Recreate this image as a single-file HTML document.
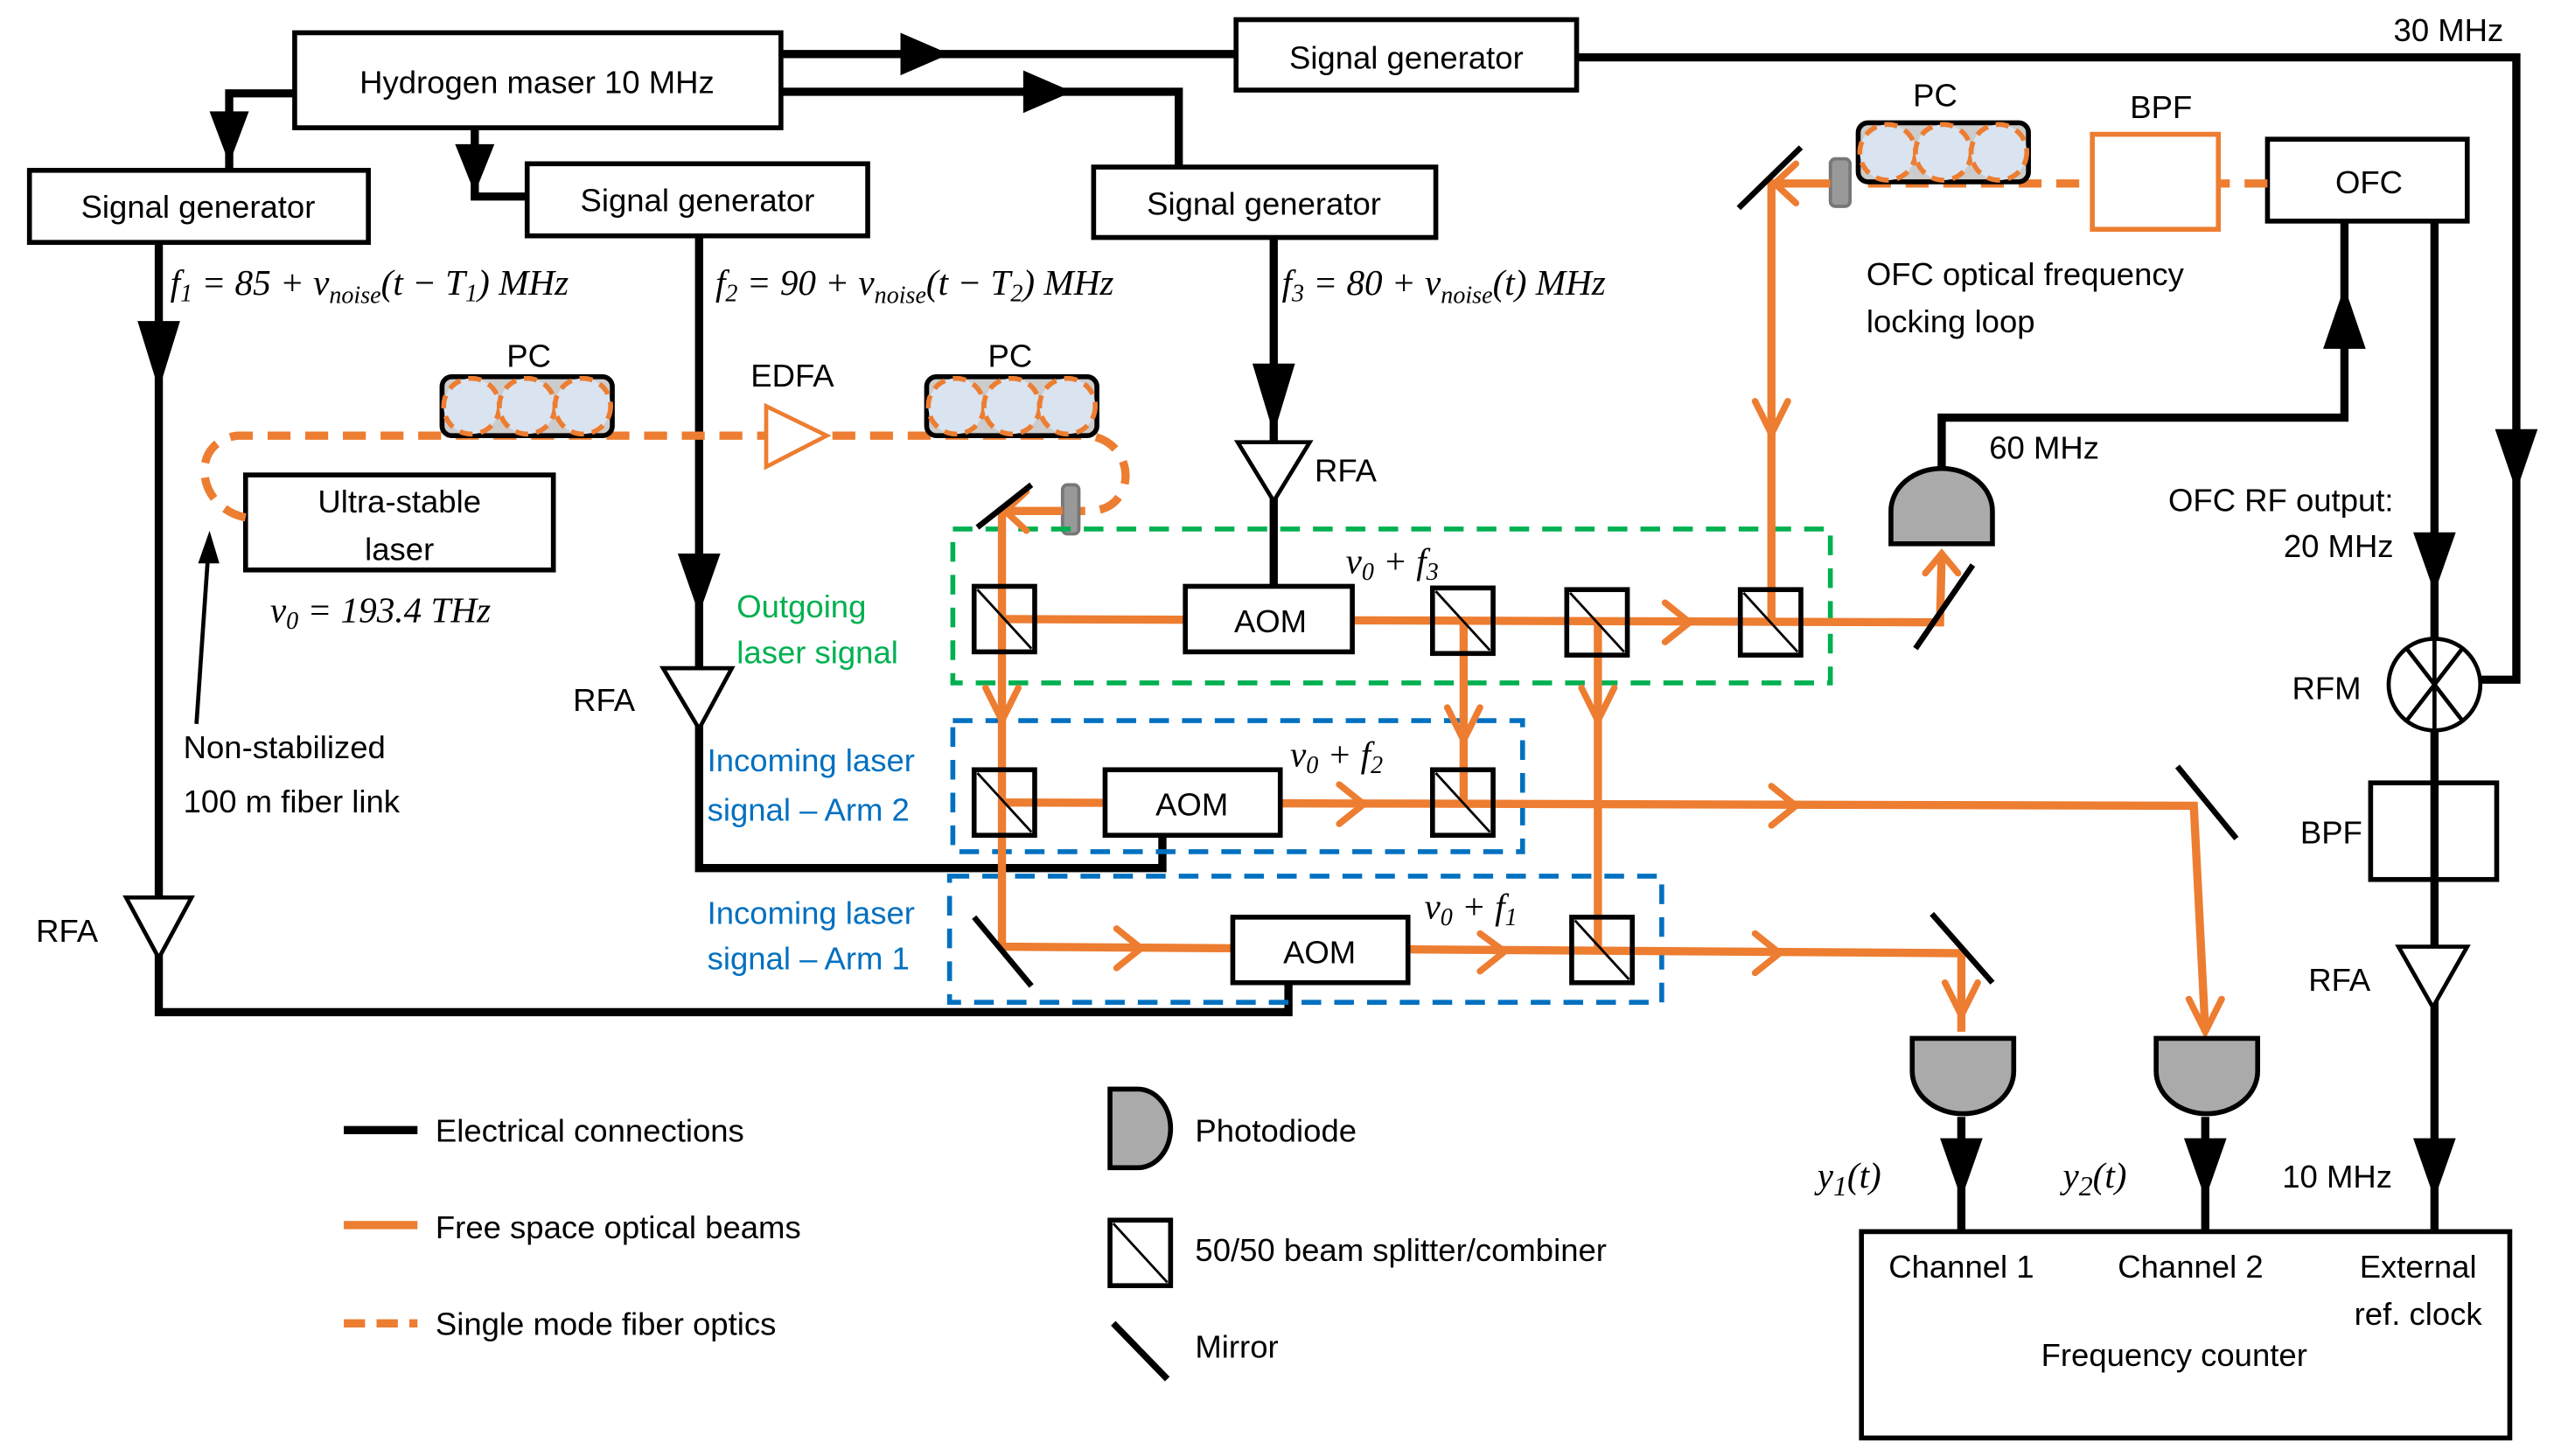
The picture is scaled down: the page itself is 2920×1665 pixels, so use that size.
<!DOCTYPE html>
<html><head><meta charset="utf-8"><style>
html,body{margin:0;padding:0;background:#fff}
svg{display:block}
text{font-family:"Liberation Sans",sans-serif;font-size:19.5px;fill:#000}
.m{font-family:"Liberation Serif",serif;font-style:italic;font-size:22px}
.g{fill:#00b050}.b{fill:#0070c0}
</style></head><body>
<svg width="2920" height="1665" viewBox="0 0 1560 889" preserveAspectRatio="none" xmlns="http://www.w3.org/2000/svg">
<defs>
<g id="pc"><rect x="0" y="0" width="104" height="36" rx="6" fill="#ccc" stroke="#000" stroke-width="3"/>
<ellipse cx="18" cy="18" rx="17" ry="17" fill="#dae3f0" stroke="#ed7d31" stroke-width="3" stroke-dasharray="8,5"/>
<ellipse cx="52" cy="18" rx="17" ry="17" fill="#dae3f0" stroke="#ed7d31" stroke-width="3" stroke-dasharray="8,5"/>
<ellipse cx="86" cy="18" rx="17" ry="17" fill="#dae3f0" stroke="#ed7d31" stroke-width="3" stroke-dasharray="8,5"/></g>
<g id="bs"><rect x="0" y="0" width="37" height="40" fill="none" stroke="#000" stroke-width="3"/><line x1="2" y1="2" x2="35" y2="38" stroke="#000" stroke-width="1.5"/></g>
<g id="pdd"><path d="M0,0 H62 V20 A31,26 0 0 1 0,20 Z" fill="#aaa" stroke="#000" stroke-width="3"/></g>
</defs>
<g fill="none" stroke="#000" stroke-width="5">
<rect x="180" y="20" width="297" height="58" stroke-width="3"/>
<rect x="755" y="12" width="208" height="43" stroke-width="3"/>
<rect x="18" y="104" width="207" height="44" stroke-width="3"/>
<rect x="322" y="100" width="208" height="44" stroke-width="3"/>
<rect x="668" y="102" width="209" height="43" stroke-width="3"/>
<rect x="150" y="290" width="188" height="58" stroke-width="3"/>
<rect x="1385" y="85" width="122" height="50" stroke-width="3"/>
<rect x="1448" y="478" width="77" height="59" stroke-width="3"/>
<rect x="1137" y="752" width="396" height="126" stroke-width="3"/>
<polyline points="477,33 755,33"/>
<polyline points="477,56 720,56 720,102"/>
<polyline points="180,57 140,57 140,104"/>
<polyline points="290,78 290,120 322,120"/>
<polyline points="963,35 1537,35 1537,415 1515,415"/>
<polyline points="97,148 97,618 787,618 787,600"/>
<polyline points="427,144 427,530 710,530 710,510"/>
<polyline points="778,145 778,358"/>
<polyline points="1186,290 1186,255 1432,255 1432,135"/>
<polyline points="1487,135 1487,752"/>
<polyline points="1198,682 1198,752"/>
<polyline points="1347,682 1347,752"/>
<line x1="120" y1="442" x2="127" y2="340" stroke-width="2.5"/>
<line x1="210" y1="690" x2="255" y2="690"/>
</g>
<g fill="#000">
<polygon points="550,20 580,33 550,46"/>
<polygon points="625,43 655,56 625,69"/>
<polygon points="128,68 152,68 140,100"/>
<polygon points="278,88 302,88 290,118"/>
<polygon points="1524,262 1550,262 1537,300"/>
<polygon points="84,196 110,196 97,238"/>
<polygon points="414,338 440,338 427,375"/>
<polygon points="765,222 791,222 778,265"/>
<polygon points="1419,213 1445,213 1432,175"/>
<polygon points="1474,325 1500,325 1487,362"/>
<polygon points="1185,695 1211,695 1198,732"/>
<polygon points="1334,695 1360,695 1347,732"/>
<polygon points="1474,695 1500,695 1487,732"/>
<polygon points="121,344 134,344 128,324"/>
</g>
<g fill="#fff" stroke="#000" stroke-width="2.5">
<polygon points="77,548 117,548 97,585"/>
<polygon points="405,408 447,408 427,445"/>
<polygon points="756,270 800,270 778,306"/>
<polygon points="1465,578 1507,578 1486,615"/>
<circle cx="1487" cy="418" r="28"/>
<line x1="1470" y1="396" x2="1504" y2="440"/><line x1="1504" y1="396" x2="1470" y2="440"/>
<line x1="1487" y1="390" x2="1487" y2="446"/>
</g>
<g fill="none" stroke="#ed7d31" stroke-width="5" stroke-dasharray="14,9">
<path d="M150,316 C120,310 115,270 145,266 L665,266 C695,270 695,312 665,312 L655,312"/>
<path d="M1385,112 L1132,112"/>
</g>
<use href="#pc" x="270" y="230"/>
<use href="#pc" x="566" y="230"/>
<use href="#pc" x="1135" y="75"/>
<polygon points="468,248 505,266 468,285" fill="#fff" stroke="#ed7d31" stroke-width="2.5"/>
<rect x="1278" y="82" width="77" height="58" fill="#fff" stroke="#ed7d31" stroke-width="3"/>
<rect x="649" y="296" width="10" height="30" rx="3" fill="#999" stroke="#777" stroke-width="2"/>
<rect x="1118" y="97" width="12" height="29" rx="3" fill="#999" stroke="#777" stroke-width="2"/>
<g fill="none" stroke-width="3" stroke-dasharray="12,8">
<rect x="582" y="323" width="536" height="94" stroke="#00b050"/>
<rect x="582" y="440" width="348" height="80" stroke="#0070c0"/>
<rect x="580" y="535" width="435" height="77" stroke="#0070c0"/>
</g>
<g fill="none" stroke="#ed7d31" stroke-width="5">
<polyline points="649,312 612,312 612,578 1198,582 1198,630"/>
<polyline points="612,378 1185,380 1186,338"/>
<polyline points="894,380 894,490"/>
<polyline points="976,380 976,580"/>
<polyline points="612,490 1340,492 1347,630"/>
<polyline points="1118,112 1082,112 1082,380"/>
<line x1="210" y1="748" x2="255" y2="748"/>
<line x1="210" y1="808" x2="255" y2="808" stroke-dasharray="13,7"/>
</g>
<g fill="#fff" stroke="#000" stroke-width="3">
<rect x="724" y="358" width="102" height="40"/>
<rect x="675" y="470" width="107" height="40"/>
<rect x="753" y="560" width="107" height="40"/>
</g>
<g fill="none" stroke="#ed7d31" stroke-width="4" stroke-linecap="round">
<polyline points="627,300 614,312 627,324"/>
<polyline points="1097,100 1084,112 1097,124"/>
<polyline points="602,420 612,440 622,420"/>
<polyline points="1072,245 1082,265 1092,245"/>
<polyline points="884,432 894,452 904,432"/>
<polyline points="966,420 976,440 986,420"/>
<polyline points="1017,368 1032,380 1017,392"/>
<polyline points="1176,350 1186,338 1196,350"/>
<polyline points="818,479 833,491 818,503"/>
<polyline points="1082,480 1097,492 1082,504"/>
<polyline points="682,567 697,579 682,591"/>
<polyline points="904,570 919,581 904,593"/>
<polyline points="1072,570 1087,582 1072,594"/>
<polyline points="1188,600 1198,620 1208,600"/>
<polyline points="1337,610 1347,630 1357,610"/>
</g>
<g fill="none">
<use href="#bs" x="595" y="358"/><use href="#bs" x="875" y="359"/><use href="#bs" x="957" y="360"/><use href="#bs" x="1063" y="360"/>
<use href="#bs" x="595" y="470"/><use href="#bs" x="875" y="470"/><use href="#bs" x="960" y="560"/>
<use href="#bs" x="678" y="745"/>
</g>
<g stroke="#000" stroke-width="3.5">
<line x1="597" y1="322" x2="630" y2="296"/>
<line x1="1062" y1="127" x2="1100" y2="90"/>
<line x1="1170" y1="396" x2="1205" y2="345"/>
<line x1="1330" y1="468" x2="1366" y2="512"/>
<line x1="1180" y1="558" x2="1217" y2="600"/>
<line x1="595" y1="560" x2="630" y2="602"/>
<line x1="680" y1="808" x2="713" y2="842" stroke-width="4"/>
</g>
<path d="M1155,332 V312 A31,26 0 0 1 1217,312 V332 Z" fill="#aaa" stroke="#000" stroke-width="3"/>
<use href="#pdd" x="1168" y="634"/>
<use href="#pdd" x="1317" y="634"/>
<path d="M678,665 V713 H695 A20,24 0 0 0 695,665 Z" fill="#aaa" stroke="#000" stroke-width="3"/>
<text x="328" y="57" text-anchor="middle">Hydrogen maser 10 MHz</text>
<text x="859" y="42" text-anchor="middle">Signal generator</text>
<text x="121" y="133" text-anchor="middle">Signal generator</text>
<text x="426" y="129" text-anchor="middle">Signal generator</text>
<text x="772" y="131" text-anchor="middle">Signal generator</text>
<text x="1462" y="25">30 MHz</text>
<text class="m" x="104" y="180">f<tspan font-size="15" dy="4">1</tspan><tspan dy="-4"> = 85 + ν</tspan><tspan font-size="15" dy="5">noise</tspan><tspan dy="-5">(t − T</tspan><tspan font-size="15" dy="4">1</tspan><tspan dy="-4">) MHz</tspan></text>
<text class="m" x="437" y="180">f<tspan font-size="15" dy="4">2</tspan><tspan dy="-4"> = 90 + ν</tspan><tspan font-size="15" dy="5">noise</tspan><tspan dy="-5">(t − T</tspan><tspan font-size="15" dy="4">2</tspan><tspan dy="-4">) MHz</tspan></text>
<text class="m" x="783" y="180">f<tspan font-size="15" dy="4">3</tspan><tspan dy="-4"> = 80 + ν</tspan><tspan font-size="15" dy="5">noise</tspan><tspan dy="-5">(t) MHz</tspan></text>
<text x="323" y="224" text-anchor="middle">PC</text>
<text x="617" y="224" text-anchor="middle">PC</text>
<text x="1182" y="65" text-anchor="middle">PC</text>
<text x="484" y="236" text-anchor="middle">EDFA</text>
<text x="1320" y="72" text-anchor="middle">BPF</text>
<text x="1447" y="118" text-anchor="middle">OFC</text>
<text x="244" y="313" text-anchor="middle">Ultra-stable</text>
<text x="244" y="342" text-anchor="middle">laser</text>
<text class="m" x="165" y="380">ν<tspan font-size="15" dy="4">0</tspan><tspan dy="-4"> = 193.4 THz</tspan></text>
<text x="112" y="463">Non-stabilized</text>
<text x="112" y="496">100 m fiber link</text>
<text x="22" y="575">RFA</text>
<text x="350" y="434">RFA</text>
<text x="803" y="294">RFA</text>
<text class="g" x="450" y="377">Outgoing</text>
<text class="g" x="450" y="405">laser signal</text>
<text class="b" x="432" y="471">Incoming laser</text>
<text class="b" x="432" y="501">signal – Arm 2</text>
<text class="b" x="432" y="564">Incoming laser</text>
<text class="b" x="432" y="592">signal – Arm 1</text>
<text x="776" y="386" text-anchor="middle">AOM</text>
<text x="728" y="498" text-anchor="middle">AOM</text>
<text x="806" y="588" text-anchor="middle">AOM</text>
<text class="m" x="822" y="350">ν<tspan font-size="15" dy="4">0</tspan><tspan dy="-4"> + f</tspan><tspan font-size="15" dy="4">3</tspan></text>
<text class="m" x="788" y="468">ν<tspan font-size="15" dy="4">0</tspan><tspan dy="-4"> + f</tspan><tspan font-size="15" dy="4">2</tspan></text>
<text class="m" x="870" y="561">ν<tspan font-size="15" dy="4">0</tspan><tspan dy="-4"> + f</tspan><tspan font-size="15" dy="4">1</tspan></text>
<text x="1140" y="174">OFC optical frequency</text>
<text x="1140" y="203">locking loop</text>
<text x="1215" y="280">60 MHz</text>
<text x="1462" y="312" text-anchor="end">OFC RF output:</text>
<text x="1462" y="340" text-anchor="end">20 MHz</text>
<text x="1400" y="427">RFM</text>
<text x="1405" y="515">BPF</text>
<text x="1410" y="605">RFA</text>
<text x="1394" y="725">10 MHz</text>
<text class="m" x="1110" y="725" font-size="26">y<tspan font-size="17" dy="5">1</tspan><tspan dy="-5">(t)</tspan></text>
<text class="m" x="1260" y="725" font-size="26">y<tspan font-size="17" dy="5">2</tspan><tspan dy="-5">(t)</tspan></text>
<text x="1198" y="780" text-anchor="middle">Channel 1</text>
<text x="1338" y="780" text-anchor="middle">Channel 2</text>
<text x="1477" y="780" text-anchor="middle">External</text>
<text x="1477" y="809" text-anchor="middle">ref. clock</text>
<text x="1328" y="834" text-anchor="middle">Frequency counter</text>
<text x="266" y="697">Electrical connections</text>
<text x="266" y="756">Free space optical beams</text>
<text x="266" y="815">Single mode fiber optics</text>
<text x="730" y="697">Photodiode</text>
<text x="730" y="770">50/50 beam splitter/combiner</text>
<text x="730" y="829">Mirror</text>
</svg>
</body></html>
